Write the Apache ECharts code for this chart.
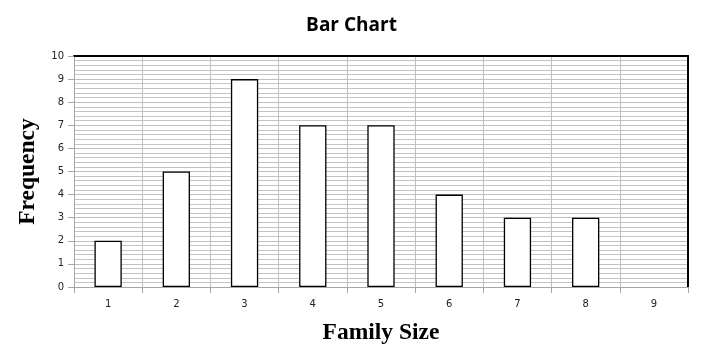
<!DOCTYPE html>
<html><head><meta charset="utf-8">
<script src="https://cdn.jsdelivr.net/npm/echarts@6/dist/echarts.min.js"></script>
<style>html,body{margin:0;padding:0;background:#fff}#c{width:703px;height:361px}</style>
</head><body><div id="c"></div>
<script>
const categories = ['1','2','3','4','5','6','7','8','9'];
const frequency = [2,5,9,7,7,4,3,3,0];
const yTicks = [0,1,2,3,4,5,6,7,8,9,10];

const chart = echarts.init(document.getElementById('c'), null, {renderer:'canvas'});
chart.setOption({
  animation:false,
  backgroundColor:'#fff',
  title:{text:'Bar Chart', left:'center', top:11,
    textStyle:{fontFamily:'Open Sans', fontWeight:'bold', fontSize:19, color:'#000'}},
  grid:{left:74, right:15, top:56, bottom:74, show:false},
  xAxis:[{type:'category', data:categories, boundaryGap:true,
    name:'Family Size', nameLocation:'middle', nameGap:34,
    nameTextStyle:{fontFamily:'Liberation Serif', fontWeight:'bold', fontSize:23.5, color:'#000'},
    axisLine:{onZero:false, lineStyle:{color:'#a6a6a6', width:1}},
    axisTick:{show:true, length:6, lineStyle:{color:'#a6a6a6'}},
    axisLabel:{fontFamily:'DejaVu Sans', fontSize:10, color:'#222', margin:12},
    splitLine:{show:true, lineStyle:{color:'#bfbfbf', width:1}}},
    {type:'category', data:categories, position:'top', boundaryGap:true,
    axisLine:{show:true, onZero:false, lineStyle:{color:'#000', width:2}}, axisTick:{show:false}, axisLabel:{show:false}, splitLine:{show:false}}],
  yAxis:[{type:'value', min:yTicks[0], max:yTicks[yTicks.length-1], interval:1,
    name:'Frequency', nameLocation:'middle', nameGap:26,
    nameTextStyle:{fontFamily:'Liberation Serif', fontWeight:'bold', fontSize:23.5, color:'#000'},
    axisLine:{show:true, onZero:false, lineStyle:{color:'#a6a6a6', width:1}},
    axisTick:{show:true, length:6, lineStyle:{color:'#a6a6a6'}},
    axisLabel:{fontFamily:'DejaVu Sans', fontSize:10, color:'#222', margin:10},
    splitLine:{show:true, lineStyle:{color:'#bfbfbf', width:1}},
    minorTick:{show:false, splitNumber:5},
    minorSplitLine:{show:true, lineStyle:{color:'#c4c4c4', width:1}}},
    {type:'value', min:yTicks[0], max:yTicks[yTicks.length-1], interval:1, position:'right',
    axisLine:{show:true, onZero:false, lineStyle:{color:'#000', width:2}}, axisTick:{show:false}, axisLabel:{show:false}, splitLine:{show:false}}],
  series:[{type:'bar', data:frequency.map(v => v === 0 ? null : v), barWidth:'40%',
    itemStyle:{color:'#fff', borderColor:'#000', borderWidth:1.3}}]
});
</script></body></html>
